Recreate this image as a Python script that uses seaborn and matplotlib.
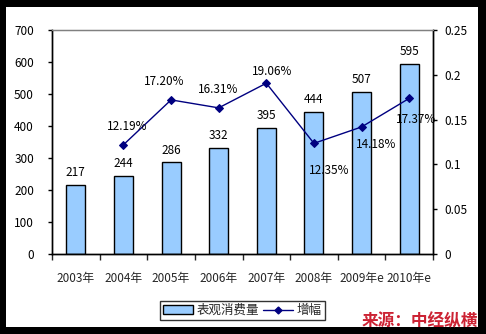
import matplotlib
matplotlib.use("Agg")
import matplotlib.pyplot as plt
from matplotlib.patches import Rectangle
from matplotlib.lines import Line2D
from matplotlib.patches import Patch
import seaborn as sns
import numpy as np
import pandas as pd

years = ["2003年", "2004年", "2005年", "2006年", "2007年", "2008年", "2009年e", "2010年e"]
consumption = [217, 244, 286, 332, 395, 444, 507, 595]
growth_years = ["2004年", "2005年", "2006年", "2007年", "2008年", "2009年e", "2010年e"]
growth = [0.1219, 0.1720, 0.1631, 0.1906, 0.1235, 0.1418, 0.1737]
left_ticks = [0, 100, 200, 300, 400, 500, 600, 700]
right_ticks = [0, 0.05, 0.1, 0.15, 0.2, 0.25]
right_ticklabels = ["0", "0.05", "0.1", "0.15", "0.2", "0.25"]

# label offsets in pixels (layout only)
label_offsets = [(4, 18), (-7, 18), (-1, 18), (6, 12), (15, -27), (15, -18), (7, -21)]

sns.set_style("ticks")
plt.rcParams['font.family'] = ['Noto Sans CJK SC', 'DejaVu Sans']
plt.rcParams['axes.unicode_minus'] = False

W, H = 486, 334
fig = plt.figure(figsize=(W / 100, H / 100), dpi=100, facecolor="black")
fig.patches.append(Rectangle((6 / W, 7 / H), (478 - 6) / W, (327 - 7) / H,
                             transform=fig.transFigure, facecolor="white",
                             edgecolor="none", zorder=-10))

ax = fig.add_axes([52 / W, (H - 254) / H, (433 - 52) / W, (254 - 30) / H])
ax.set_facecolor("white")

df = pd.DataFrame({"year": years, "value": consumption})
sns.barplot(data=df, x="year", y="value", order=years, color="#99CCFF",
            edgecolor="black", linewidth=1, width=0.4, saturation=1, ax=ax)
ax.bar_label(ax.containers[0], labels=[str(v) for v in consumption],
             padding=4, fontsize=8.5, color="black")
ax.set_ylim(0, 700)
ax.set_yticks(left_ticks)
ax.set_xlim(-0.5, len(years) - 0.5)
ax.set_xlabel("")
ax.set_ylabel("")
ax.tick_params(axis="y", length=3, width=1, pad=10, labelsize=8.5, colors="black")
ax.tick_params(axis="x", which="major", length=0, pad=13, labelsize=8.5)
ax.set_xticks(np.arange(len(years) + 1) - 0.5, minor=True)
ax.tick_params(axis="x", which="minor", length=4, width=1, direction="out")
for s in ["left", "bottom", "right"]:
    ax.spines[s].set_color("black")
    ax.spines[s].set_linewidth(1)
ax.spines["top"].set_visible(True)
ax.spines["top"].set_color("#808080")
ax.spines["top"].set_linewidth(1)

ax2 = ax.twinx()
xpos = [years.index(y) for y in growth_years]
gdf = pd.DataFrame({"x": xpos, "g": growth})
sns.lineplot(data=gdf, x="x", y="g", color="#000080", linewidth=1,
             marker="D", markersize=4, markeredgecolor="#000080", ax=ax2)
ax2.set_ylim(0, 0.25)
ax2.set_yticks(right_ticks)
ax2.set_yticklabels(right_ticklabels)
ax2.set_xlim(-0.5, len(years) - 0.5)
ax2.set_ylabel("")
ax2.set_xlabel("")
ax2.tick_params(axis="y", length=3, width=1, pad=5, labelsize=8.5, colors="black")
for s in ["left", "bottom", "right"]:
    ax2.spines[s].set_color("black")
    ax2.spines[s].set_linewidth(1)
ax2.spines["top"].set_color("#808080")

for x, g, (dx, dy) in zip(xpos, growth, label_offsets):
    ax2.annotate(f"{g * 100:.2f}%", (x, g), xytext=(dx, dy),
                 textcoords="offset pixels", ha="center", va="center",
                 fontsize=8.5, color="black")

handles = [Patch(facecolor="#99CCFF", edgecolor="black", linewidth=1),
           Line2D([0], [0], color="#000080", linewidth=1, marker="D", markersize=3.5)]
leg = fig.legend(handles, ["表观消费量", "增幅"], loc="center",
                 bbox_to_anchor=(242 / W, (H - 310.5) / H), ncol=2,
                 frameon=True, fancybox=False, edgecolor="black", fontsize=9,
                 handlelength=2.4, handletextpad=0.3, columnspacing=0.3,
                 borderpad=0.25, borderaxespad=0)
leg.get_frame().set_linewidth(1)

fig.text(478 / W, (H - 321) / H, "来源：中经纵横", ha="right", va="center",
         fontsize=12, fontweight="bold", color="#CC2233")

fig.savefig("out.png", dpi=100, facecolor=fig.get_facecolor())
